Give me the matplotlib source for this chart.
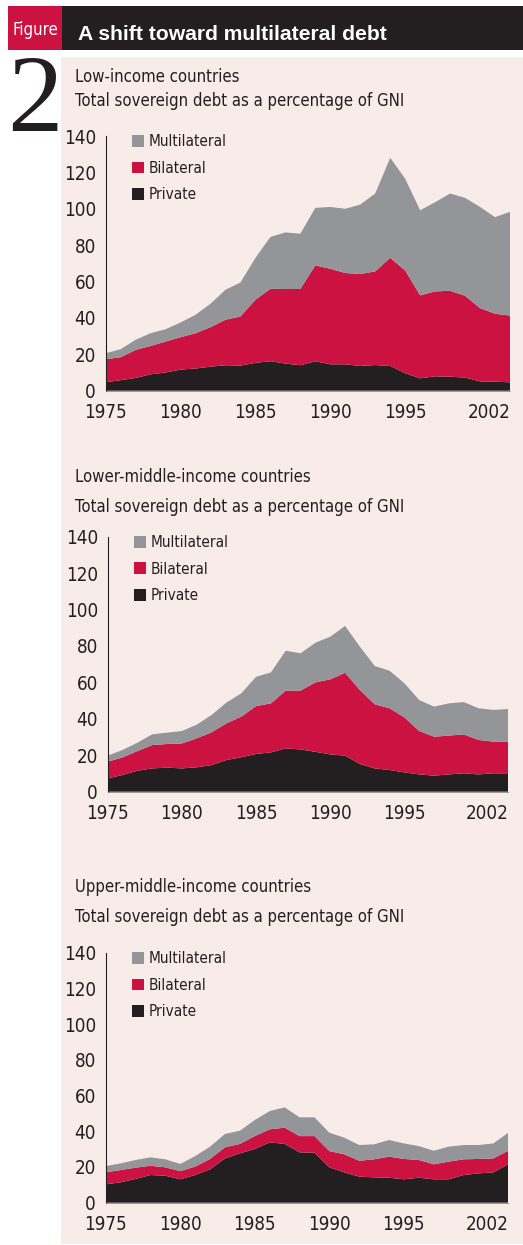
import matplotlib
matplotlib.use("Agg")
import matplotlib.pyplot as plt
from matplotlib import font_manager
from matplotlib.patches import Rectangle, Patch
from matplotlib.transforms import ScaledTranslation

years = list(range(1975, 2003))

# low-income: cumulative tops, converted to shares below
low_private = [4.6, 5.8, 7.0, 9.0, 10.0, 11.6, 12.2, 13.2, 14.0, 13.8, 15.3, 16.2, 14.9, 14.0,
               16.2, 14.5, 14.5, 13.6, 14.1, 13.6, 9.6, 6.8, 7.9, 7.7, 7.2, 5.1, 5.0, 4.6]
low_bil_top = [17.3, 18.4, 22.4, 24.6, 27.0, 29.4, 31.6, 34.9, 39.0, 40.8, 50.0, 56.0, 55.9, 55.9,
               68.9, 67.0, 64.7, 64.1, 65.6, 73.0, 66.1, 52.4, 54.6, 54.9, 52.2, 45.4, 42.3, 41.3]
low_total = [20.6, 22.8, 28.0, 31.6, 33.8, 37.5, 41.7, 47.8, 55.5, 59.5, 73.0, 84.5, 87.0, 86.3,
             100.5, 101.0, 100.0, 102.3, 108.4, 128.0, 116.5, 99.2, 103.6, 108.4, 106.0, 101.0, 95.4, 98.3]

lmid_private = [7.3, 9.2, 11.5, 12.8, 13.2, 12.8, 13.4, 14.6, 17.4, 18.9, 20.7, 21.6, 23.8, 23.2,
                21.9, 20.5, 19.8, 15.2, 12.8, 11.9, 10.6, 9.5, 8.8, 9.5, 10.1, 9.5, 10.1, 10.1]
lmid_bil_top = [16.5, 18.8, 22.3, 25.6, 26.2, 26.5, 29.3, 32.6, 37.5, 41.2, 47.0, 48.5, 55.5, 55.5,
                60.0, 61.7, 65.3, 55.8, 48.0, 45.8, 40.8, 33.3, 30.2, 30.8, 31.5, 28.4, 27.5, 27.5]
lmid_total = [19.8, 22.9, 26.9, 31.5, 32.4, 33.3, 36.8, 42.1, 48.9, 54.0, 63.1, 65.5, 77.4, 76.0,
              81.8, 85.1, 91.0, 79.6, 69.0, 66.4, 59.5, 50.3, 46.7, 48.5, 49.2, 45.8, 44.9, 45.4]

umid_private = [10.3, 11.4, 13.3, 15.5, 15.1, 13.1, 15.5, 18.7, 24.8, 27.6, 30.1, 33.8, 32.9, 28.2,
                28.0, 19.8, 17.0, 14.6, 14.2, 14.0, 13.1, 14.0, 13.1, 13.1, 15.5, 16.4, 17.0, 21.5]
umid_bil_top = [17.0, 18.3, 19.6, 20.7, 19.8, 17.7, 20.2, 24.5, 31.0, 32.9, 37.3, 41.1, 42.0, 37.3,
                37.3, 28.9, 27.1, 23.5, 24.3, 25.8, 24.5, 23.9, 21.5, 23.0, 24.3, 24.5, 24.8, 29.1]
umid_total = [20.5, 22.0, 23.9, 25.4, 24.3, 21.7, 26.1, 31.4, 38.5, 40.3, 46.3, 51.3, 53.4, 47.8,
              47.8, 39.2, 36.4, 32.3, 32.7, 35.1, 33.2, 31.7, 29.1, 31.4, 32.3, 32.3, 33.2, 39.2]

titles = ["Low-income countries", "Lower-middle-income countries", "Upper-middle-income countries"]
subtitle = "Total sovereign debt as a percentage of GNI"
series_names = ["Multilateral", "Bilateral", "Private"]
yticks = [0, 20, 40, 60, 80, 100, 120, 140]
xticks = [1975, 1980, 1985, 1990, 1995, 2002]

RED = "#CC1240"
GRAY = "#939598"
BLACK = "#231F20"
PINK = "#F8ECE8"

# a condensed face if one is installed, else plain Liberation Sans
fonts = font_manager.fontManager.ttflist
names = {f.name for f in fonts}
cond = [f for f in fonts if f.name == "DejaVu Sans" and "condensed" in str(f.stretch)
        and f.weight in (400, "normal") and f.style == "normal"]
if "Liberation Sans Narrow" in names:
    TXT = dict(family="Liberation Sans Narrow")
    sz = 1.1
elif cond:
    TXT = dict(family="DejaVu Sans", stretch="condensed")
    sz = 1.0
else:
    TXT = dict(family="Liberation Sans")
    sz = 1.0

W, H = 523, 1245
fig = plt.figure(figsize=(W / 100, H / 100), dpi=100)
fig.patch.set_facecolor("white")


def fx(px):
    return px / W


def fy(py):
    return 1 - py / H


# header band and pink panel, kept behind the axes
for (x, y, w, h, c) in [(8, 50, 54, 44, RED), (62, 50, 461, 44, BLACK), (61, 1244, 462, 1187, PINK)]:
    fig.add_artist(Rectangle((fx(x), fy(y)), fx(w), h / H, color=c,
                             transform=fig.transFigure, lw=0, zorder=-5))
fig.text(fx(35), fy(35), "Figure", color="white", fontsize=12 * sz, **TXT,
         ha="center", va="baseline")
fig.text(fx(78), fy(40), "A shift toward multilateral debt", color="white", fontsize=15.2,
         fontweight="bold", family="Liberation Sans", ha="left", va="baseline")
fig.text(fx(35), fy(131), "2", color=BLACK, fontsize=80, family="Liberation Serif",
         ha="center", va="baseline")

panels = [
    (low_private, low_bil_top, low_total, (105.7, 136.0, 510.0, 390.7), (75, 82, 106)),
    (lmid_private, lmid_bil_top, lmid_total, (107.7, 536.7, 508.3, 791.7), (75, 482, 512)),
    (umid_private, umid_bil_top, umid_total, (105.7, 952.7, 508.3, 1202.7), (75, 892, 922)),
]

for i, (priv, biltop, total, box, tpos) in enumerate(panels):
    x0, ytop, x1, ybot = box
    ax = fig.add_axes([fx(x0), fy(ybot), fx(x1 - x0), (ybot - ytop) / H])
    ax.set_facecolor("none")
    bil = [b - p for b, p in zip(biltop, priv)]
    mul = [t - b for t, b in zip(total, biltop)]
    ax.stackplot(years, priv, bil, mul, colors=[BLACK, RED, GRAY], lw=0)
    ax.set_xlim(1975, 2002)
    ax.set_ylim(0, 140)
    ax.set_yticks(yticks)
    ax.set_yticklabels([str(v) for v in yticks], fontsize=13.5 * sz, color=BLACK, **TXT)
    ax.set_xticks(xticks)
    ax.set_xticklabels([str(v) for v in xticks], fontsize=13.5 * sz, color=BLACK, **TXT)
    last = ax.get_xticklabels()[-1]
    last.set_ha("right")
    last.set_transform(last.get_transform() + ScaledTranslation(9 / 100, 0, fig.dpi_scale_trans))
    ax.tick_params(axis="both", length=0)
    ax.tick_params(axis="y", pad=7)
    ax.tick_params(axis="x", pad=9)
    for s in ["top", "right"]:
        ax.spines[s].set_visible(False)
    ax.spines["left"].set_color(BLACK)
    ax.spines["left"].set_linewidth(0.8)
    ax.spines["bottom"].set_color("#8a8a8a")
    ax.spines["bottom"].set_linewidth(0.6)

    handles = [Patch(facecolor=c, edgecolor="none") for c in [GRAY, RED, BLACK]]
    prop = {"size": 11 * sz, "family": TXT["family"]}
    if "stretch" in TXT:
        prop["stretch"] = TXT["stretch"]
    leg = ax.legend(handles, series_names, loc="upper left", bbox_to_anchor=(0.05, 1.03),
                    frameon=False, handlelength=0.8, handleheight=0.8, handletextpad=0.3,
                    labelspacing=0.75, borderaxespad=0, prop=prop)
    for t in leg.get_texts():
        t.set_color(BLACK)

    fig.text(fx(tpos[0]), fy(tpos[1]), titles[i], fontsize=12 * sz, color=BLACK,
             ha="left", va="baseline", **TXT)
    fig.text(fx(tpos[0]), fy(tpos[2]), subtitle, fontsize=12 * sz, color=BLACK,
             ha="left", va="baseline", **TXT)

fig.savefig("out.png", dpi=100, facecolor="white")
